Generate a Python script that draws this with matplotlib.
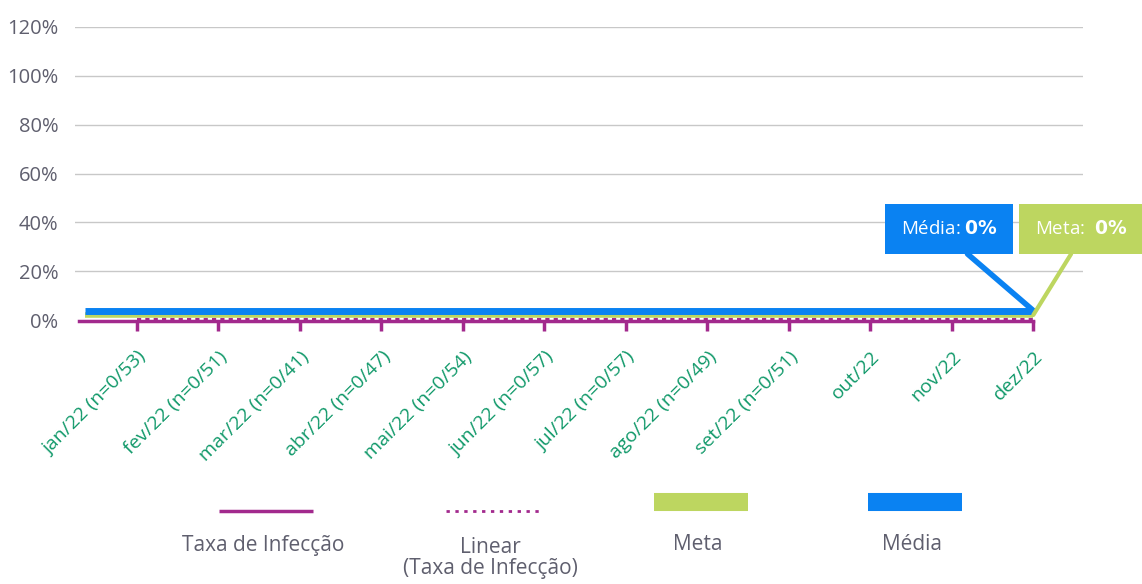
import matplotlib.pyplot as plt
import matplotlib.transforms as mtransforms

meses = ['jan/22 (n=0/53)', 'fev/22 (n=0/51)', 'mar/22 (n=0/41)', 'abr/22 (n=0/47)',
         'mai/22 (n=0/54)', 'jun/22 (n=0/57)', 'jul/22 (n=0/57)', 'ago/22 (n=0/49)',
         'set/22 (n=0/51)', 'out/22', 'nov/22', 'dez/22']
taxa = [0, 0, 0, 0, 0, 0, 0, 0, 0, 0, 0, 0]
linear = [0, 0, 0, 0, 0, 0, 0, 0, 0, 0, 0, 0]
meta = [0, 0, 0, 0, 0, 0, 0, 0, 0, 0, 0, 0]
media = [0, 0, 0, 0, 0, 0, 0, 0, 0, 0, 0, 0]
y_ticks = [0, 20, 40, 60, 80, 100, 120]

MAGENTA = '#a2298d'
VERDE = '#bdd660'
AZUL = '#0a82f2'
TXT = '#5f5f6e'
TICKTXT = '#11996a'

plt.rcParams['font.family'] = ['Open Sans', 'DejaVu Sans']

fig = plt.figure(figsize=(11.42, 5.84), dpi=100)
ax = fig.add_axes([75 / 1142, 1 - 320 / 584, 1008 / 1142, 293 / 584])

x = list(range(len(meses)))
ax.set_xlim(-0.76, 11.61)
ax.set_ylim(0, 120)

# small vertical offsets so the zero lines stay visible, as in the original
def up(pts):
    return ax.transData + mtransforms.ScaledTranslation(0, pts / 72, fig.dpi_scale_trans)

xs = [-0.64] + x
ax.plot(xs, [media[0]] + media, color=AZUL, lw=5, transform=up(6.8), clip_on=False,
        solid_capstyle='butt', zorder=4)
ax.plot(xs, [meta[0]] + meta, color=VERDE, lw=4, transform=up(3.6), clip_on=False,
        solid_capstyle='butt', zorder=3)
ax.plot(x, linear, color=MAGENTA, lw=1.5, ls=(0, (2, 2)), transform=up(0.5), clip_on=False,
        zorder=3)
ax.plot([-0.71] + x, [taxa[0]] + taxa, color=MAGENTA, lw=2.5, clip_on=False, zorder=5,
        transform=up(-0.7))

ax.set_yticks(y_ticks)
ax.set_yticklabels([f'{v}%' for v in y_ticks], color=TXT, fontsize=14.5)
ax.grid(axis='y', color='#c8c8c8', lw=1)
ax.yaxis.get_gridlines()[0].set_visible(False)
ax.set_axisbelow(True)
for s in ax.spines.values():
    s.set_visible(False)
ax.tick_params(axis='y', length=0, pad=12)

ax.set_xticks(x)
ax.set_xticklabels(meses, rotation=45, ha='right', va='top', rotation_mode='anchor',
                   color=TICKTXT, fontsize=14)
ax.tick_params(axis='x', length=8, width=2.5, color=MAGENTA, pad=12, direction='out')

# callouts
last = len(meses) - 1
ax.annotate('Média: $\\bf{0\\%}$', xy=(last, media[-1]), xycoords=up(6.8),
            xytext=(949, 584 - 229), textcoords='figure pixels',
            ha='center', va='center', color='white', fontsize=13.5,
            bbox=dict(boxstyle='square,pad=0.85', fc=AZUL, ec='none'),
            arrowprops=dict(arrowstyle='-', color=AZUL, lw=4, shrinkA=0, shrinkB=0,
                            relpos=(0.5, 0)), zorder=6)
ax.annotate('Meta:  $\\bf{0\\%}$', xy=(last, meta[-1]), xycoords=up(3.6),
            xytext=(1081, 584 - 229), textcoords='figure pixels',
            ha='center', va='center', color='white', fontsize=13.5,
            bbox=dict(boxstyle='square,pad=0.85', fc=VERDE, ec='none'),
            arrowprops=dict(arrowstyle='-', color=VERDE, lw=3, shrinkA=0, shrinkB=0,
                            relpos=(0.5, 0)), zorder=6)

# legend drawn below the chart
leg = [('Taxa de Infecção', MAGENTA, 2.5, '-'),
       ('Linear\n(Taxa de Infecção)', MAGENTA, 2, (0, (1.2, 2))),
       ('Meta', VERDE, 13, '-'),
       ('Média', AZUL, 13, '-')]
centers = [263, 490, 698, 912]
for (lab, c, lw, ls), cx in zip(leg, centers):
    yl = 1 - 511 / 584 if lw < 5 else 1 - 502 / 584
    fig.add_artist(plt.Line2D([(cx - 44) / 1142, (cx + 50) / 1142], [yl, yl],
                              color=c, lw=lw, ls=ls, solid_capstyle='butt'))
    fig.text(cx / 1142, 1 - 545 / 584, lab, ha='center', va='top' if '\n' in lab else 'center',
             color=TXT, fontsize=15, linespacing=1.05,
             transform=fig.transFigure if '\n' not in lab else
             fig.transFigure + mtransforms.ScaledTranslation(0, 6 / 72, fig.dpi_scale_trans))

fig.savefig('out.png', dpi=100)
